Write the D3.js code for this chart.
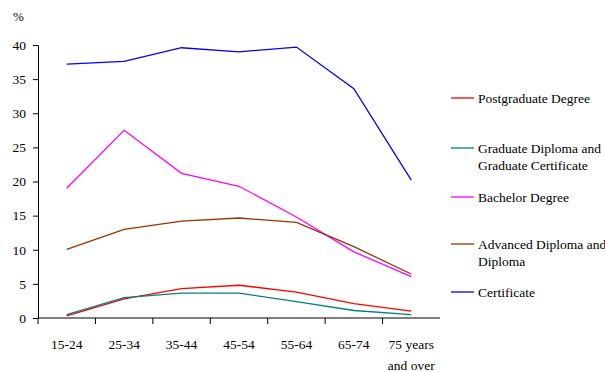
<!DOCTYPE html>
<html>
<head>
<meta charset="utf-8">
<script src="https://cdn.jsdelivr.net/npm/d3@7"></script>
<style>
  html, body { margin: 0; padding: 0; background: #fff; }
  svg text { font-family: "Liberation Serif", "Times New Roman", serif; fill: #000; }
</style>
</head>
<body>
<svg id="chart" width="605" height="372"></svg>
<script>
// Age groups along the x axis
const ageGroups = ["15-24", "25-34", "35-44", "45-54", "55-64", "65-74", "75 years\nand over"];

// Share of persons (%) holding each qualification level, by age group
const postgraduate = [0.3, 2.8, 4.3, 4.8, 3.8, 2.1, 1.0];
const gradDiploma  = [0.5, 3.0, 3.65, 3.65, 2.4, 1.1, 0.5];
const bachelor     = [19.0, 27.5, 21.2, 19.3, 14.8, 9.7, 6.05];
const advDiploma   = [10.05, 13.0, 14.2, 14.65, 14.0, 10.45, 6.45];
const certificate  = [37.2, 37.6, 39.6, 39.0, 39.7, 33.6, 20.2];

const yTicks = [0, 5, 10, 15, 20, 25, 30, 35, 40];

const seriesNames = ["Postgraduate Degree", "Graduate Diploma and\nGraduate Certificate",
                     "Bachelor Degree", "Advanced Diploma and\nDiploma", "Certificate"];
const seriesValues = [postgraduate, gradDiploma, bachelor, advDiploma, certificate];
const seriesColors = ["#ff0000", "#008080", "#ff00ff", "#993300", "#0000ff"];

const svg = d3.select("#chart");
const plotLeft = 38, plotRight = 440, plotTop = 45, plotBottom = 318;

const x = d3.scaleBand().domain(ageGroups).range([plotLeft, plotRight]);
const y = d3.scaleLinear().domain([0, 40]).range([plotBottom, plotTop]);

// y axis
const yAxis = svg.append("g").attr("transform", `translate(${plotLeft},0)`)
  .call(d3.axisLeft(y).tickValues(yTicks).tickSize(5).tickPadding(7).tickFormat(d3.format("d")));
yAxis.selectAll("text").style("font-size", "13.5px");

// x axis: ticks sit on the category boundaries
const boundaries = ageGroups.map(d => x(d));
const xAxisG = svg.append("g").attr("transform", `translate(0,${plotBottom})`);
xAxisG.append("line").attr("x1", plotLeft).attr("x2", plotRight).attr("stroke", "#000");
xAxisG.selectAll("line.tick").data(boundaries).join("line")
  .attr("class", "tick")
  .attr("x1", d => d).attr("x2", d => d).attr("y1", 0).attr("y2", 6)
  .attr("stroke", "#000");
xAxisG.selectAll("text.lab").data(ageGroups).join("text")
  .attr("class", "lab")
  .attr("text-anchor", "middle")
  .style("font-size", "13.5px")
  .each(function(d) {
    const t = d3.select(this);
    d.split("\n").forEach((s, i) => {
      t.append("tspan").attr("x", x(d) + x.bandwidth() / 2).attr("y", 31 + i * 21).text(s);
    });
  });

svg.selectAll(".domain").attr("stroke", "#000");
svg.selectAll(".tick line").attr("stroke", "#000");

// unit label
svg.append("text").attr("x", 13).attr("y", 21).style("font-size", "13px").text("%");

// series lines
const line = d3.line()
  .x((d, i) => x(ageGroups[i]) + x.bandwidth() / 2)
  .y(d => y(d));

seriesValues.forEach((vals, k) => {
  svg.append("path").datum(vals)
    .attr("d", line)
    .attr("fill", "none")
    .attr("stroke", seriesColors[k])
    .attr("stroke-width", 1.3);
});

// legend
const legendY = [98, 148, 197, 244, 292];
seriesNames.forEach((name, k) => {
  const g = svg.append("g").attr("transform", `translate(451,${legendY[k]})`);
  g.append("line").attr("x1", 0).attr("x2", 23).attr("y1", 0).attr("y2", 0)
    .attr("stroke", seriesColors[k]).attr("stroke-width", 1.3);
  const t = g.append("text").style("font-size", "13.5px");
  name.split("\n").forEach((s, i) => {
    t.append("tspan").attr("x", 27).attr("y", 4.5 + i * 17).text(s);
  });
});
</script>
</body>
</html>
